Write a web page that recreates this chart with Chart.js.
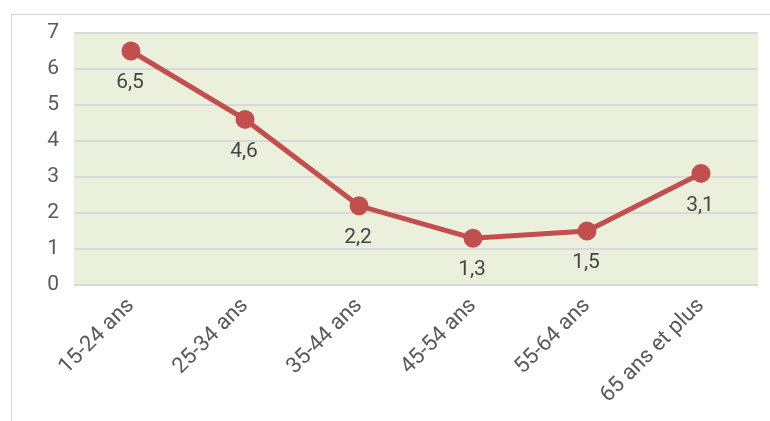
<!DOCTYPE html>
<html>
<head>
<meta charset="utf-8">
<script src="https://cdn.jsdelivr.net/npm/chart.js@4"></script>
<style>
  html, body { margin: 0; padding: 0; background: #fff; }
  #wrap { position: relative; width: 770px; height: 421px; }
  #frame { position: absolute; left: 11px; top: 14px; right: 0; bottom: 0; border-left: 1px solid #d4d4d4; border-top: 1px solid #d4d4d4; }
  canvas { position: absolute; left: 0; top: 0; }
</style>
</head>
<body>
<div id="wrap">
  <div id="frame"></div>
  <canvas id="graphique" width="770" height="421"></canvas>
</div>
<script>
// données
const trancheAge = ['15-24 ans', '25-34 ans', '35-44 ans', '45-54 ans', '55-64 ans', '65 ans et plus'];
const valeurs = [6.5, 4.6, 2.2, 1.3, 1.5, 3.1];
const graduations = [0, 1, 2, 3, 4, 5, 6, 7];

const rouge = '#c24e4e';

// fond vert de la zone de tracé
const fondZone = {
    id: 'fondZone',
    beforeDraw(chart) {
        const { ctx, chartArea: a } = chart;
        ctx.save();
        ctx.fillStyle = '#ebf0dc';
        ctx.fillRect(a.left, a.top, a.right - a.left, a.bottom - a.top);
        ctx.restore();
    }
};

// étiquettes de valeur sous chaque point
const etiquettes = {
    id: 'etiquettes',
    afterDatasetsDraw(chart) {
        const ctx = chart.ctx;
        const meta = chart.getDatasetMeta(0);
        ctx.save();
        ctx.font = '21px Roboto';
        ctx.fillStyle = '#454545';
        ctx.textAlign = 'center';
        ctx.textBaseline = 'middle';
        meta.data.forEach((pt, i) => {
            ctx.fillText(String(valeurs[i]).replace('.', ','), pt.x - 1, pt.y + 32);
        });
        ctx.restore();
    }
};

document.addEventListener('DOMContentLoaded', function(){
    const ctx = document.getElementById('graphique');
    new Chart(ctx, {
        type: 'line',
        data: {
            labels: trancheAge,
            datasets: [{
                data: valeurs,
                borderColor: rouge,
                backgroundColor: rouge,
                borderWidth: 5,
                pointRadius: 7,
                pointHoverRadius: 7,
                tension: 0
            }]
        },
        options: {
            responsive: false,
            animation: false,
            layout: { padding: { top: 33, right: 12, left: 0, bottom: 0 } },
            plugins: {
                legend: { display: false },
                tooltip: { enabled: false }
            },
            scales: {
                x: {
                    offset: true,
                    grid: { display: false },
                    border: { display: false },
                    ticks: {
                        minRotation: 45,
                        maxRotation: 45,
                        color: '#595959',
                        font: { family: 'Roboto', size: 22 },
                        padding: 0
                    },
                    afterFit(scale) { scale.height = 136; }
                },
                y: {
                    min: 0,
                    max: 7,
                    afterBuildTicks(scale) { scale.ticks = graduations.map(v => ({ value: v })); },
                    grid: { color: '#d9d9d9', lineWidth: 2, drawTicks: false },
                    border: { display: false },
                    ticks: {
                        color: '#595959',
                        font: { family: 'Roboto', size: 21 },
                        padding: 15
                    },
                    afterFit(scale) { scale.width = 74; }
                }
            }
        },
        plugins: [fondZone, etiquettes]
    });
});
</script>
</body>
</html>
